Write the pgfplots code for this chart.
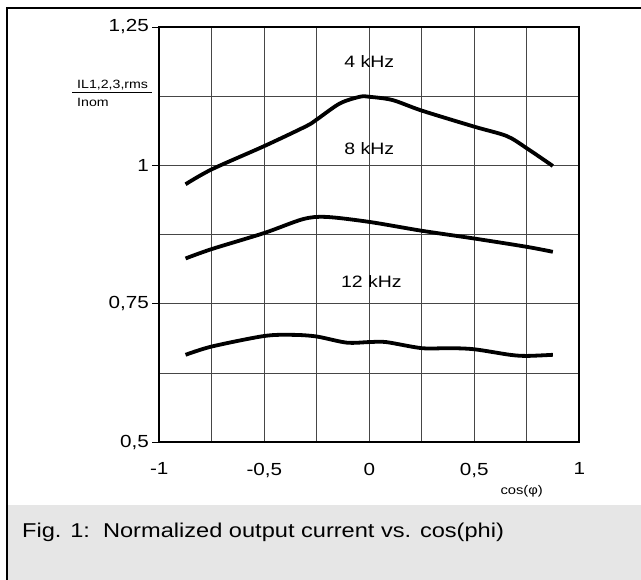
\documentclass[border=0pt]{standalone}
\usepackage{fontspec}
\setmainfont{Liberation Sans}[FakeStretch=1.18]
\usepackage{pgfplots}
\pgfplotsset{compat=1.18}

\definecolor{capgray}{RGB}{230,230,230}
\definecolor{gridc}{RGB}{70,70,70}

\begin{document}
\begin{tikzpicture}[x=1pt,y=1pt]
\path[use as bounding box] (0,0) rectangle (641,-580);
\fill[capgray] (7,-505) rectangle (641,-580);
\draw[line width=1.2pt] (7,-580) -- (7,-8) -- (641,-8);

\begin{axis}[
  at={(159.3pt,-442.3pt)}, anchor=south west,
  scale only axis, width=420pt, height=415.3pt,
  xmin=-1, xmax=1, ymin=0.5, ymax=1.25,
  xtick={-1,-0.5,0,0.5,1},
  xticklabels={{-1},{-0,5},{0},{0,5},{1}},
  minor xtick={-0.75,-0.25,0.25,0.75},
  ytick={0.5,0.75,1,1.25},
  yticklabels={{0,5},{0,75},{1},{1,25}},
  minor ytick={0.625,0.875,1.125},
  ytick pos=left,
  grid=both,
  major grid style={line width=0.8pt, gridc},
  minor grid style={line width=0.8pt, gridc},
  axis line style={line width=1.8pt},
  tick align=outside,
  x tick style={draw=none},
  y tick style={line width=0.8pt, black},
  major tick length=7pt,
  minor tick length=0pt,
  tick label style={font=\fontsize{17.5}{21}\selectfont},
  xticklabel style={yshift=-10pt},
  clip=false,
]
% 4 kHz
\addplot[black, line width=3.8pt, smooth, tension=0.5] coordinates {
  (-0.875,0.966) (-0.75,0.993) (-0.5,1.035) (-0.30,1.071) (-0.25,1.083)
  (-0.14,1.112) (-0.045,1.124) (0.0,1.124) (0.111,1.118) (0.25,1.099)
  (0.5,1.070) (0.655,1.053) (0.75,1.031) (0.874,0.999)
};
% 8 kHz
\addplot[black, line width=3.8pt, smooth, tension=0.5] coordinates {
  (-0.875,0.832) (-0.75,0.849) (-0.5,0.878) (-0.316,0.903) (-0.205,0.907)
  (0.0,0.898) (0.25,0.882) (0.5,0.868) (0.75,0.853) (0.874,0.844)
};
% 12 kHz
\addplot[black, line width=3.8pt, smooth, tension=0.5] coordinates {
  (-0.875,0.658) (-0.75,0.673) (-0.5,0.692) (-0.36,0.694) (-0.25,0.691)
  (-0.108,0.680) (0.0,0.681) (0.08,0.681) (0.25,0.670) (0.383,0.670)
  (0.5,0.668) (0.67,0.658) (0.75,0.656) (0.874,0.658)
};
\node[font=\fontsize{16.5}{20}\selectfont] at (axis cs:0,1.188) {4 kHz};
\node[font=\fontsize{16.5}{20}\selectfont] at (axis cs:0,1.031) {8 kHz};
\node[font=\fontsize{16.5}{20}\selectfont] at (axis cs:0.01,0.791) {12 kHz};
\end{axis}

\node[anchor=base west, inner sep=0pt, font=\fontsize{12}{14}\selectfont] at (77,-88.3) {IL1,2,3,rms};
\draw[line width=0.8pt] (72,-92.7) -- (152,-92.7);
\node[anchor=base west, inner sep=0pt, font=\fontsize{12}{14}\selectfont] at (77,-106.7) {Inom};
\node[font=\fontsize{12.5}{15}\selectfont] at (521.7,-491.7) {cos(φ)};
\node[anchor=base west, inner sep=0pt, font=\fontsize{20}{24}\selectfont] at (22,-537) {Fig. 1:\ \ Normalized output current vs. cos(phi)};
\end{tikzpicture}
\end{document}
